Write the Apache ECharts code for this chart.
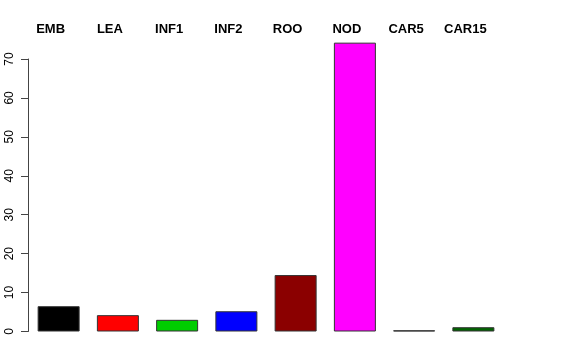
<!DOCTYPE html>
<html>
<head>
<meta charset="utf-8">
<script src="https://cdn.jsdelivr.net/npm/echarts@6/dist/echarts.min.js"></script>
<style>html,body{margin:0;padding:0;background:#fff;}#c{width:576px;height:360px;}</style>
</head>
<body>
<div id="c"></div>
<script>
const categories = ['EMB', 'LEA', 'INF1', 'INF2', 'ROO', 'NOD', 'CAR5', 'CAR15'];
const values = [6.5, 4.2, 3.0, 5.2, 14.5, 74.2, 0.3, 1.1];
const barColors = ['#000000', '#FF0000', '#00CD00', '#0000FF', '#8B0000', '#FF00FF', '#000000', '#006400'];
const yTicks = [0, 10, 20, 30, 40, 50, 60, 70];

const chart = echarts.init(document.getElementById('c'), null, {renderer: 'canvas'});
chart.setOption({
  animation: false,
  backgroundColor: '#ffffff',
  grid: {left: 29, right: 73, top: 59, bottom: 28.5, containLabel: false},
  xAxis: {
    type: 'category',
    position: 'top',
    data: categories,
    axisLine: {show: false},
    axisTick: {show: false},
    axisLabel: {
      color: '#000', fontWeight: 'bold', fontSize: 13,
      fontFamily: 'Liberation Sans, Arial, sans-serif',
      margin: 23, padding: [0, 16, 0, 0], interval: 0
    },
    splitLine: {show: false}
  },
  yAxis: {
    type: 'value',
    min: yTicks[0], max: yTicks[yTicks.length - 1], interval: 10,
    offset: 1,
    axisLine: {show: true, lineStyle: {color: '#444', width: 1}},
    axisTick: {show: true, length: 7, lineStyle: {color: '#444', width: 1}},
    axisLabel: {
      rotate: 90, color: '#000', fontSize: 12,
      fontFamily: 'Liberation Sans, Arial, sans-serif', margin: 12
    },
    splitLine: {show: false}
  },
  series: [{
    type: 'bar',
    clip: false,
    barWidth: 42,
    data: values.map((v, i) => ({
      value: v,
      itemStyle: {color: barColors[i], borderColor: '#333', borderWidth: 1}
    }))
  }]
});
</script>
</body>
</html>
